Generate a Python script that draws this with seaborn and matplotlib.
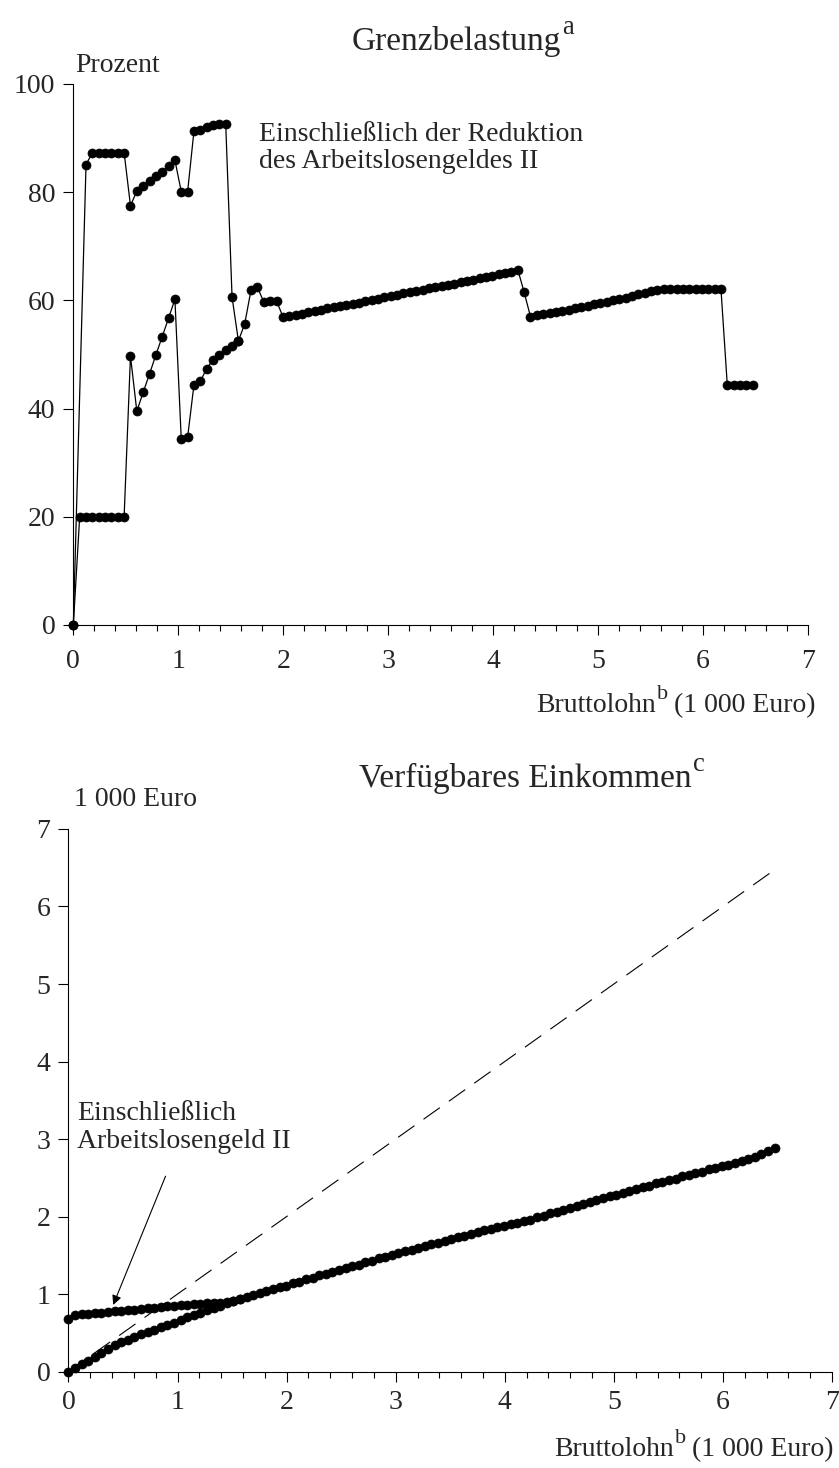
import matplotlib
matplotlib.use("Agg")
import matplotlib.pyplot as plt
import seaborn as sns
import numpy as np
import pandas as pd
from matplotlib.ticker import MultipleLocator

# gross wage grid (1 000 Euro)
step = 0.0605
n_points = 108
gross = np.round(np.arange(n_points) * step, 4)

# marginal burden in percent, without reduction of ALG II
rate_without = [
    0,
    20, 20, 20, 20, 20, 20, 20, 20,
    49.7, 39.5, 43.0, 46.4, 49.9, 53.3, 56.7, 60.2,
    34.3, 34.7, 44.4, 45.0, 47.4, 49.0, 49.9, 50.8, 51.6, 52.5,
    55.7, 62.0, 62.4, 59.7, 59.9, 59.9, 57.0,
    57.1, 57.3, 57.5, 57.8, 58.0, 58.2, 58.5, 58.7, 58.9, 59.2,
    59.4, 59.6, 59.9, 60.1, 60.3, 60.6, 60.8, 61.0, 61.3, 61.5,
    61.7, 62.0, 62.2, 62.4, 62.7, 62.9, 63.1, 63.4, 63.6, 63.8,
    64.1, 64.3, 64.5, 64.8, 65.0, 65.3, 65.7,
    61.5, 57.0,
    57.2, 57.4, 57.6, 57.9, 58.1, 58.3, 58.6, 58.8, 59.0, 59.3,
    59.5, 59.7, 60.0, 60.2, 60.5, 60.8, 61.1, 61.4, 61.7, 61.9,
    62.1, 62.1, 62.1, 62.1, 62.1, 62.1, 62.1, 62.1, 62.1, 62.1,
    44.3, 44.3, 44.3, 44.3, 44.3,
]

# marginal burden including reduction of ALG II (grid points 0, 2..26)
with_index = [0] + list(range(2, 27))
rate_with = [
    0, 85.1,
    87.3, 87.3, 87.3, 87.3, 87.3, 87.3,
    77.5, 80.2, 81.1, 82.0, 83.0, 83.8, 84.9, 85.9,
    80.1, 80.1,
    91.3, 91.4, 92.0, 92.4, 92.6, 92.6,
    60.6, 52.5,
]

# disposable income (1 000 Euro)
income_without = [
    0.00, 0.05, 0.10, 0.14, 0.19, 0.24, 0.29, 0.34, 0.38,
    0.41, 0.445, 0.48, 0.51, 0.54, 0.57, 0.60, 0.625,
    0.66, 0.70, 0.73, 0.76, 0.79, 0.82, 0.85, 0.88, 0.91, 0.94,
    0.965, 0.99, 1.01, 1.04, 1.06, 1.09, 1.11,
    1.14, 1.16, 1.19, 1.21, 1.24, 1.26, 1.29, 1.31, 1.34, 1.36,
    1.38, 1.41, 1.43, 1.46, 1.48, 1.50, 1.53, 1.55, 1.57, 1.60,
    1.62, 1.64, 1.66, 1.69, 1.71, 1.73, 1.75, 1.77, 1.80, 1.82,
    1.84, 1.86, 1.88, 1.90, 1.92, 1.94, 1.96,
    1.99, 2.01, 2.04, 2.06, 2.09, 2.11, 2.14, 2.16, 2.19, 2.21,
    2.24, 2.26, 2.28, 2.31, 2.33, 2.36, 2.38, 2.40, 2.43, 2.45,
    2.47, 2.49, 2.52, 2.54, 2.56, 2.58, 2.61, 2.63, 2.65, 2.67,
    2.69, 2.71, 2.74, 2.77, 2.81, 2.84, 2.88,
]
income_with = [
    0.68, 0.73, 0.74, 0.745, 0.75, 0.76, 0.77, 0.775, 0.78,
    0.79, 0.80, 0.81, 0.815, 0.825, 0.83, 0.84, 0.845,
    0.855, 0.865, 0.87, 0.875, 0.88, 0.885, 0.89, 0.895, 0.91, 0.94,
]
diagonal = [0, 6.48]

x_ticks = [0, 1, 2, 3, 4, 5, 6, 7]

sns.set_theme(style="ticks")
plt.rcParams["font.family"] = ["Liberation Serif", "DejaVu Serif"]

fig = plt.figure(figsize=(8.39, 14.68), dpi=100)
ax1 = fig.add_axes([0.0874, 0.5743, 0.8756, 0.3685])
ax2 = fig.add_axes([0.0816, 0.0657, 0.9101, 0.3696])

line_kw = dict(color="black", marker="o", markersize=6.5, linewidth=0.9,
               markeredgecolor="black", markeredgewidth=0.5,
               estimator=None, sort=False)

# top chart
sns.lineplot(x=gross, y=rate_without, ax=ax1, **line_kw)
sns.lineplot(x=gross[with_index], y=rate_with, ax=ax1, **line_kw)

# bottom chart
sns.lineplot(x=diagonal, y=diagonal, ax=ax2, color="black", linewidth=0.8,
             dashes=False, linestyle=(0, (18, 10)))
sns.lineplot(x=gross, y=income_without, ax=ax2, **line_kw)
sns.lineplot(x=gross[:len(income_with)], y=income_with, ax=ax2, **line_kw)

for ax, ymax, ystep, xpad in [(ax1, 100, 20, 10), (ax2, 7, 1, 6)]:
    ax.set_xlim(0, 7)
    ax.set_ylim(0, ymax)
    ax.set_xticks(x_ticks)
    ax.xaxis.set_minor_locator(MultipleLocator(0.2))
    ax.yaxis.set_major_locator(MultipleLocator(ystep))
    ax.tick_params(axis="both", which="major", labelsize=20, direction="out",
                   length=7, width=0.8, color="black", pad=6)
    ax.tick_params(axis="x", which="major", pad=xpad)
    ax.tick_params(axis="x", which="minor", length=4, width=0.8, color="black")
    ax.tick_params(axis="y", which="minor", length=0)
    ax.set_xlabel("")
    ax.set_ylabel("")
    for s in ["top", "right"]:
        ax.spines[s].set_visible(False)
    for s in ["left", "bottom"]:
        ax.spines[s].set_color("black")
        ax.spines[s].set_linewidth(0.8)
    for ln in ax.lines:
        ln.set_clip_on(False)


def title_with_sup(x, y, main, sup, size=24):
    # main text left-aligned, superscript letter raised after it
    t = fig.text(x, y, main, ha="left", va="baseline", fontsize=size)
    plt.annotate(sup, xy=(1.0, 0.55), xycoords=t, fontsize=size * 0.8,
                 ha="left", va="bottom", xytext=(1, 0), textcoords="offset points")


def xlabel_with_sup(x_right, y, main, sup, rest, size=20):
    # right-aligned: "main^sup rest"
    r = fig.text(x_right, y, rest, ha="right", va="baseline", fontsize=size)
    s = plt.annotate(sup, xy=(0.0, 0.55), xycoords=r, fontsize=size * 0.8,
                     ha="right", va="bottom", xytext=(-4, 0), textcoords="offset points")
    plt.annotate(main, xy=(0.0, 0.0), xycoords=(s, r), fontsize=size,
                 ha="right", va="bottom", xytext=(-1, 0), textcoords="offset points")


# texts top
title_with_sup(0.419, 0.966, "Grenzbelastung", "a")
fig.text(0.090, 0.951, "Prozent", ha="left", va="baseline", fontsize=20)
ax1.text(1.77, 84.4, "Einschließlich der Reduktion\ndes Arbeitslosengeldes II",
         ha="left", va="baseline", fontsize=20, linespacing=1.15)
xlabel_with_sup(0.972, 0.515, "Bruttolohn", "b", "(1 000 Euro)")

# texts bottom
title_with_sup(0.428, 0.464, "Verfügbares Einkommen", "c")
fig.text(0.088, 0.451, "1 000 Euro", ha="left", va="baseline", fontsize=20)
ax2.annotate("", xy=(0.41, 0.86), xytext=(0.89, 2.52),
             arrowprops=dict(arrowstyle="-|>", color="black", lw=0.8,
                             mutation_scale=14, shrinkA=0, shrinkB=0))
ax2.text(0.08, 2.88, "Einschließlich\nArbeitslosengeld II",
         ha="left", va="baseline", fontsize=20, linespacing=1.15)
xlabel_with_sup(0.993, 0.008, "Bruttolohn", "b", "(1 000 Euro)")

fig.savefig("out.png", dpi=100)
